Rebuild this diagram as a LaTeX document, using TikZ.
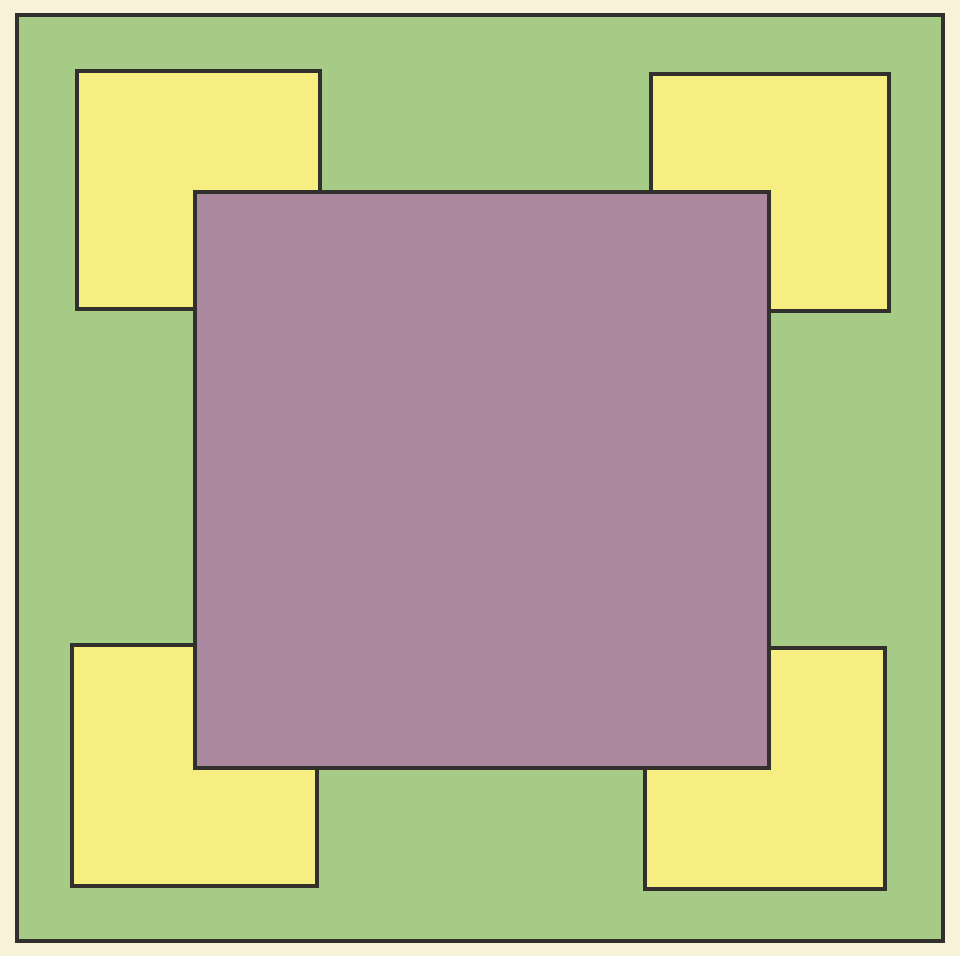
\documentclass[tikz,border=0pt]{standalone}
\usepackage{tikz}
\definecolor{paper}{RGB}{248,243,216}
\definecolor{lawn}{RGB}{166,203,134}
\definecolor{bed}{RGB}{246,238,128}
\definecolor{mauve}{RGB}{170,136,160}
\definecolor{ink}{RGB}{50,48,45}

\begin{document}
\begin{tikzpicture}[x=0.01cm, y=-0.01cm]
		%%%%% START %%%%%
		\tikzset{plot/.style={draw=ink, line width=1pt}}
		
		\fill[paper] (0, 0) rectangle (960, 956);
		\useasboundingbox (0, 0) rectangle (960, 956);
		
		\draw[plot, fill=lawn] (17, 15) rectangle (943, 941);
		
		\draw[plot, fill=bed] (77, 71) rectangle (320, 309);
		\draw[plot, fill=bed] (651, 74) rectangle (889, 311);
		\draw[plot, fill=bed] (72, 645) rectangle (317, 886);
		\draw[plot, fill=bed] (645, 648) rectangle (885, 889);
		
		\draw[plot, fill=mauve] (195, 192) rectangle (769, 768);
		
		%%%%% END %%%%%
	\end{tikzpicture}
\end{document}
